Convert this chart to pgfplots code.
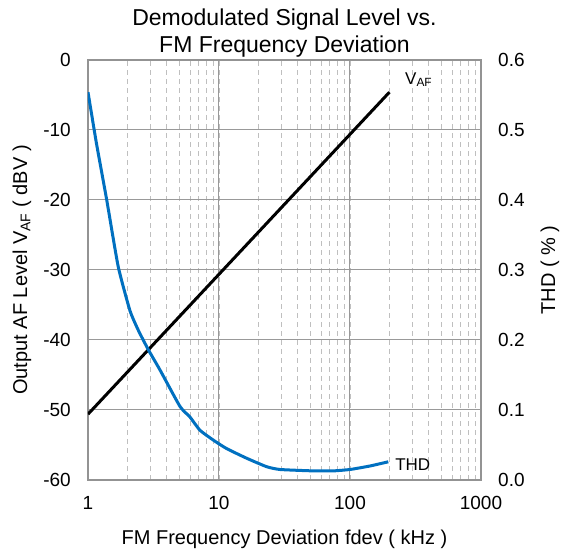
\documentclass[border=0pt]{standalone}
\usepackage{fontspec}
\setmainfont{Liberation Sans}
\usepackage{pgfplots}
\pgfplotsset{compat=1.18}
\definecolor{thdblue}{RGB}{0,112,192}
\begin{document}
\begin{tikzpicture}
\begin{axis}[
  scale only axis, width=393pt, height=420pt,
  at={(0pt,0pt)}, anchor=south west,
  xmode=log, xmin=1, xmax=1000,
  axis line style={draw=gray!85, line width=1.3pt},
  tick style={draw=none},
  ticklabel style={font=\fontsize{19}{21}\selectfont, inner sep=0pt},
  yticklabel style={anchor=east, xshift=-17pt},
  xticklabel style={anchor=north, yshift=-16pt},
  /pgf/number format/assume math mode=true,
  ymin=-60, ymax=0, ytick={-60,-50,...,0},
  xtick={1,10,100,1000}, xticklabels={1,10,100,1000},
  grid=both,
  major grid style={draw=gray!80, line width=1pt},
  minor grid style={draw=gray!50, dash pattern=on 5pt off 4pt, line width=0.8pt},
  ylabel={Output AF Level V\textsubscript{AF} ( dBV )},
  xlabel={FM Frequency Deviation fdev ( kHz )},
  title={Demodulated Signal Level vs.\\FM Frequency Deviation},
  title style={font=\fontsize{23}{27}\selectfont, align=center, at={(axis description cs:0.5,1.05)}, anchor=center},
  ylabel style={font=\fontsize{20}{22}\selectfont, at={(axis description cs:-0.168,0.5)}, anchor=center, rotate=0},
  xlabel style={font=\fontsize{20}{22}\selectfont, at={(axis description cs:0.5,-0.1405)}, anchor=center},
]
\addplot[black, line width=3pt] coordinates {(1,-50.6) (200,-4.6)};
\node[anchor=west, inner sep=0pt, font=\fontsize{17}{19}\selectfont] at (axis cs:263,-2.8) {V\textsubscript{AF}};
\end{axis}
\begin{axis}[
  scale only axis, width=393pt, height=420pt,
  at={(0pt,0pt)}, anchor=south west,
  xmode=log, xmin=1, xmax=1000,
  axis line style={draw=gray!85, line width=1.3pt},
  tick style={draw=none},
  ticklabel style={font=\fontsize{19}{21}\selectfont, inner sep=0pt},
  yticklabel style={anchor=west, xshift=17pt, /pgf/number format/fixed, /pgf/number format/precision=1, /pgf/number format/fixed zerofill},
  /pgf/number format/assume math mode=true,
  axis y line*=right, axis x line=none,
  ymin=0, ymax=0.6, ytick={0,0.1,...,0.6},
  ylabel={THD ( \% )},
  ylabel style={font=\fontsize{20}{22}\selectfont, at={(axis description cs:1.1756,0.5)}, anchor=center, rotate=0},
]
\addplot[color=thdblue, line width=3pt, smooth, tension=0.3] coordinates {
(1,0.554) (1.16,0.481) (1.39,0.40) (1.70,0.305) (2.09,0.242) (2.42,0.214) (2.89,0.186) (3.55,0.157) (5.04,0.105) (6.0,0.090) (7.16,0.071) (9.05,0.057) (11.4,0.045) (16.3,0.031) (23.1,0.019) (29.2,0.015) (52.5,0.013) (74.6,0.013) (100,0.015) (142,0.020) (196,0.026)};
\node[anchor=west, inner sep=0pt, font=\fontsize{17}{19}\selectfont] at (axis cs:221,0.0214) {THD};
\end{axis}
\pgfresetboundingbox
\path (-88pt,-74pt) rectangle (478pt,480pt);
\end{tikzpicture}
\end{document}
